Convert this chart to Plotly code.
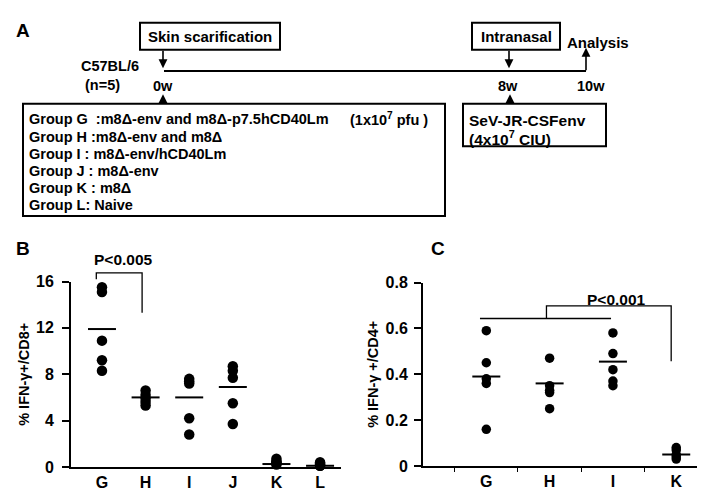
import plotly.graph_objects as go

# ---------------- data ----------------
cats_b = ["G", "H", "I", "J", "K", "L"]
b_values = {
    "G": [15.5, 15.1, 10.9, 9.2, 8.3],
    "H": [6.6, 6.2, 5.9, 5.6, 5.3],
    "I": [7.6, 7.4, 7.2, 4.2, 2.8],
    "J": [8.7, 8.3, 7.7, 5.5, 3.7],
    "K": [0.7, 0.5, 0.4, 0.3, 0.2],
    "L": [0.4, 0.3, 0.2, 0.1, 0.1],
}
b_means = [11.9, 6.0, 6.0, 6.9, 0.25, 0.1]
b_ticks = [0, 4, 8, 12, 16]

cats_c = ["G", "H", "I", "K"]
c_values = {
    "G": [0.59, 0.45, 0.38, 0.36, 0.16],
    "H": [0.47, 0.35, 0.33, 0.32, 0.25],
    "I": [0.58, 0.49, 0.42, 0.37, 0.35],
    "K": [0.08, 0.07, 0.05, 0.04, 0.03],
}
c_means = [0.39, 0.36, 0.455, 0.05]
c_ticks = [0, 0.2, 0.4, 0.6, 0.8]
c_ticktext = ["0", "0.2", "0.4", "0.6", "0.8"]

# brackets (category-index x, value y)
b_bracket_x = [-0.13, -0.13, 0.92, 0.92]
b_bracket_y = [16.2, 16.75, 16.75, 13.3]
c_bracket1_x = [-0.1, 1.97]
c_bracket1_y = [0.643, 0.643]
c_bracket2_x = [0.95, 0.95, 2.92, 2.92]
c_bracket2_y = [0.643, 0.698, 0.698, 0.457]

group_lines = [
    "Group G  :m8Δ-env and m8Δ-p7.5hCD40Lm",
    "Group H :m8Δ-env and m8Δ",
    "Group I : m8Δ-env/hCD40Lm",
    "Group J : m8Δ-env",
    "Group K : m8Δ",
    "Group L: Naive",
]

W, H = 705, 494
FONT = "Liberation Sans, Arial, sans-serif"


def px(x):
    return x / W


def py(y):
    return 1 - y / H


fig = go.Figure()

# ---------------- panel B ----------------
# bracket drawn on a hidden taller axis with the same scale as "y"
fig.add_trace(go.Scatter(
    x=b_bracket_x, y=b_bracket_y, mode="lines",
    line=dict(color="black", width=1.3),
    xaxis="x", yaxis="y3", cliponaxis=False, showlegend=False))
for i, c in enumerate(cats_b):
    vals = b_values[c]
    fig.add_trace(go.Scatter(
        x=[i] * len(vals), y=vals, mode="markers",
        marker=dict(color="black", size=10.5),
        xaxis="x", yaxis="y", cliponaxis=False, showlegend=False))
fig.add_trace(go.Scatter(
    x=list(range(len(cats_b))), y=b_means, mode="markers",
    marker=dict(symbol="line-ew", size=20, line=dict(color="black", width=2)),
    xaxis="x", yaxis="y", cliponaxis=False, showlegend=False))

# ---------------- panel C ----------------
for i, c in enumerate(cats_c):
    vals = c_values[c]
    fig.add_trace(go.Scatter(
        x=[i] * len(vals), y=vals, mode="markers",
        marker=dict(color="black", size=9.5),
        xaxis="x2", yaxis="y2", cliponaxis=False, showlegend=False))
fig.add_trace(go.Scatter(
    x=list(range(len(cats_c))), y=c_means, mode="markers",
    marker=dict(symbol="line-ew", size=20, line=dict(color="black", width=2)),
    xaxis="x2", yaxis="y2", cliponaxis=False, showlegend=False))
for bx, by in [(c_bracket1_x, c_bracket1_y), (c_bracket2_x, c_bracket2_y)]:
    fig.add_trace(go.Scatter(
        x=bx, y=by, mode="lines", line=dict(color="black", width=1.3),
        xaxis="x2", yaxis="y2", cliponaxis=False, showlegend=False))

tickfont = dict(family=FONT, size=16, color="black", weight="bold")
titlefont = dict(family=FONT, size=14.5, color="black", weight="bold")

B_BOTTOM, B_TOP, B_EXT = 467, 275, 245
fig.update_layout(
    width=W, height=H,
    margin=dict(l=0, r=0, t=0, b=0),
    paper_bgcolor="white", plot_bgcolor="rgba(0,0,0,0)",
    font=dict(family=FONT, color="black"),
    xaxis=dict(domain=[px(63), px(333)], range=[-0.71, 5.48], anchor="y",
               tickmode="array", tickvals=list(range(len(cats_b))), ticktext=cats_b,
               showline=True, linecolor="black", linewidth=2, ticks="",
               showgrid=False, zeroline=False, tickfont=tickfont),
    yaxis=dict(domain=[py(B_BOTTOM), py(B_TOP)], range=[0, 16], anchor="x",
               tickmode="array", tickvals=b_ticks,
               showline=True, linecolor="black", linewidth=2,
               ticks="outside", ticklen=7, tickwidth=1.5, tickcolor="black",
               ticklabelstandoff=5,
               showgrid=False, zeroline=False, tickfont=tickfont,
               title=dict(text="% IFN-γ+/CD8+", font=titlefont, standoff=3)),
    yaxis3=dict(domain=[py(B_BOTTOM), py(B_EXT)],
                range=[0, 16 * (B_BOTTOM - B_EXT) / (B_BOTTOM - B_TOP)],
                anchor="x", visible=False, showgrid=False, zeroline=False),
    xaxis2=dict(domain=[px(415), px(698)], range=[-1, 3.47], anchor="y2",
                tickmode="array", tickvals=list(range(len(cats_c))), ticktext=cats_c,
                showline=True, linecolor="black", linewidth=2, ticks="",
                minor=dict(tickmode="array", tickvals=[-0.5, 0.5, 1.5, 2.5],
                           ticks="outside", ticklen=4, tickwidth=1, tickcolor="black"),
                showgrid=False, zeroline=False, tickfont=tickfont),
    yaxis2=dict(domain=[py(466), py(276)], range=[0, 0.8], anchor="x2",
                tickmode="array", tickvals=c_ticks, ticktext=c_ticktext,
                showline=True, linecolor="black", linewidth=2,
                ticks="outside", ticklen=7, tickwidth=1.5, tickcolor="black",
                ticklabelstandoff=3,
                showgrid=False, zeroline=False, tickfont=tickfont,
                title=dict(text="% IFN-γ +/CD4+", font=titlefont, standoff=3)),
)

# ---------------- panel A (diagram) ----------------
shapes = []


def box(x0, y0, x1, y1):
    shapes.append(dict(type="rect", xref="paper", yref="paper",
                       x0=px(x0), x1=px(x1), y0=py(y1), y1=py(y0),
                       line=dict(color="black", width=2)))


def hline(x0, x1, y):
    shapes.append(dict(type="line", xref="paper", yref="paper",
                       x0=px(x0), x1=px(x1), y0=py(y), y1=py(y),
                       line=dict(color="black", width=2)))


box(132, 7, 272, 35)      # Skin scarification
box(464, 7, 552, 35)      # Intranasal
box(15, 91, 437, 207)     # groups
box(455, 91, 598, 135)    # SeV
hline(156, 578, 57)       # timeline

annotations = []


def text(x, y, s, size=15, xanchor="center"):
    annotations.append(dict(x=px(x), y=py(y), xref="paper", yref="paper",
                            text=s, showarrow=False, xanchor=xanchor, yanchor="middle",
                            borderpad=0,
                            font=dict(family=FONT, size=size, color="black", weight="bold")))


def arrow(x_tail, y_tail, x_tip, y_tip):
    annotations.append(dict(x=px(x_tip), y=py(y_tip), xref="paper", yref="paper",
                            ax=x_tail - x_tip, ay=y_tail - y_tip, text="",
                            showarrow=True, arrowhead=2, arrowsize=1.1, arrowwidth=1.6,
                            arrowcolor="black", standoff=0, startstandoff=0))


text(15, 15, "A", size=19)
text(15, 241, "B", size=19)
text(430, 241, "C", size=19)

text(202, 21, "Skin scarification")
text(508, 21, "Intranasal")
text(590, 27, "Analysis")
text(102, 52, "C57BL/6", size=14.5)
text(94, 71, "(n=5)", size=14.5)
text(155, 72, "0w", size=14.5)
text(500, 72, "8w", size=14.5)
text(583, 72, "10w", size=14.5)

arrow(155, 35, 155, 54)
arrow(501, 35, 501, 54)
arrow(578, 57, 578, 33)
arrow(155, 91, 155, 81)
arrow(502, 91, 502, 81)

for k, line in enumerate(group_lines):
    text(20, 107 + k * 17.8, line, size=14.5, xanchor="left")
text(341, 107, "(1x10<sup>7</sup> pfu )", size=14.5, xanchor="left")
text(460, 108, "SeV-JR-CSFenv", size=15.5, xanchor="left")
text(460, 126, "(4x10<sup>7</sup> CIU)", size=15.5, xanchor="left")

# p-value labels
text(115, 252, "P<0.005", size=15.5)
text(608, 294, "P<0.001", size=15.5)

fig.update_layout(shapes=shapes, annotations=annotations)

fig.write_html("out.html")
